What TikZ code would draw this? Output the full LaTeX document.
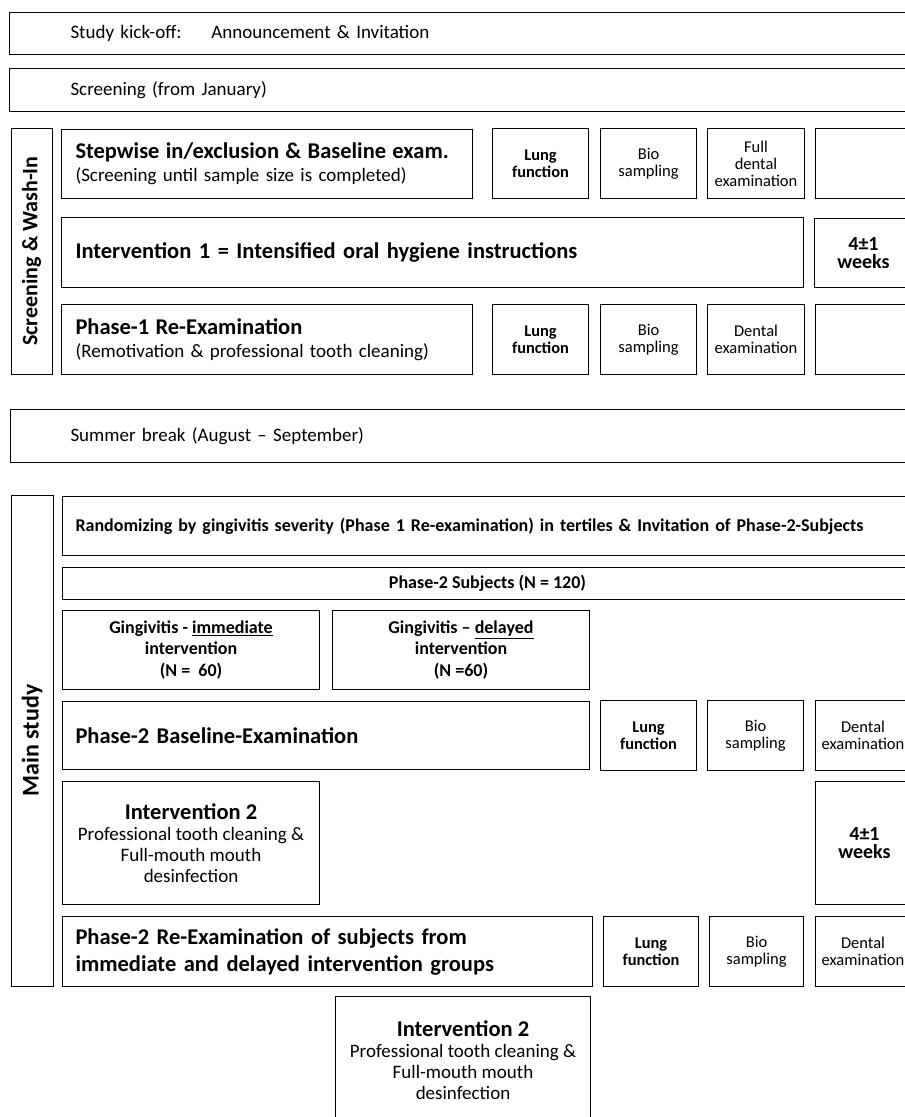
\documentclass[tikz,border=0pt]{standalone}
\usepackage{fontspec}
\setmainfont{Carlito}
\usepackage{tikz}

\tikzset{
  box/.style={draw, line width=1pt, anchor=north west, inner sep=0pt, align=center},
  lbox/.style={box, align=left, inner xsep=#1},
  txt/.style={font=\fontsize{19}{21}\selectfont},
  hd/.style={font=\bfseries\fontsize{22.5}{27}\selectfont},
  sm/.style={font=\fontsize{16.5}{17}\selectfont},
  smb/.style={font=\bfseries\fontsize{16.4}{17}\selectfont},
  midb/.style={font=\bfseries\fontsize{18}{21.5}\selectfont},
  wks/.style={font=\bfseries\fontsize{20}{18}\selectfont},
  side/.style={draw, line width=1pt, rotate=90, inner sep=0pt, font=\bfseries\fontsize{24}{26}\selectfont}
}

\begin{document}
\begin{tikzpicture}[x=1pt,y=-1pt]
\useasboundingbox (0,0) rectangle (905,1117);
\clip (0,0) rectangle (905,1117);

% Kick-off and screening
\node[lbox=61pt, txt, text width=789pt, minimum height=42pt] (kick) at (9,12) {Study kick-off:\hspace{30pt}Announcement \& Invitation};
\node[lbox=61pt, txt, text width=789pt, minimum height=43pt] (scr) at (9,68) {Screening (from January)};

% Screening & Wash-In block
\node[side, font=\bfseries\fontsize{22}{24}\selectfont, minimum width=246pt, minimum height=41pt] (wash) at (31.5,251) {Screening \& Wash-In};
\node[lbox=14pt, txt, text width=383pt, minimum height=69pt] (step) at (61,129) {{\bfseries\fontsize{22.5}{27}\selectfont Stepwise in/exclusion \& Baseline exam.}\\[2pt](Screening until sample size is completed)};
\node[box, smb, minimum width=96pt, minimum height=70pt] (lunga) at (492,128) {Lung\\function};
\node[box, sm, minimum width=96pt, minimum height=70pt] (bioa) at (600,128) {Bio\\sampling};
\node[box, sm, minimum width=97pt, minimum height=70pt] (denta) at (707,128) {Full\\dental\\examination};
\node[box, minimum width=98pt, minimum height=70pt] (empa) at (815,128) {};

\node[lbox=14pt, hd, text width=714pt, minimum height=70pt] (inta) at (61,217) {Intervention 1 = Intensified oral hygiene instructions};
\node[box, wks, minimum width=98pt, minimum height=69pt] (wka) at (814,218) {4±1\\weeks};

\node[lbox=14pt, txt, text width=383pt, minimum height=70pt] (rea) at (61,304) {{\bfseries\fontsize{22.5}{27}\selectfont Phase-1 Re-Examination}\\[2pt](Remotivation \& professional tooth cleaning)};
\node[box, smb, minimum width=96pt, minimum height=70pt] (lungb) at (492,304) {Lung\\function};
\node[box, sm, minimum width=96pt, minimum height=70pt] (biob) at (600,304) {Bio\\sampling};
\node[box, sm, minimum width=97pt, minimum height=70pt] (dentb) at (707,304) {Dental\\examination};
\node[box, minimum width=98pt, minimum height=70pt] (empb) at (815,304) {};

% Summer break
\node[lbox=60pt, txt, text width=790pt, minimum height=53pt] (summer) at (10,409) {Summer break (August -- September)};

% Main study block
\node[side, minimum width=491pt, minimum height=42pt] (main) at (32,740.5) {Main study};
\node[lbox=13pt, midb, text width=824pt, minimum height=59pt] (rand) at (62,496) {Randomizing by gingivitis severity (Phase 1 Re-examination) in tertiles \& Invitation of Phase-2-Subjects};
\node[box, midb, minimum width=850pt, minimum height=32pt] (subj) at (62,567) {Phase-2 Subjects (N = 120)};
\node[box, midb, minimum width=257pt, minimum height=79pt] (gimm) at (62,610) {Gingivitis - \underline{immediate}\\intervention\\(N =\ \ 60)};
\node[box, midb, minimum width=257pt, minimum height=79pt] (gdel) at (332,610) {Gingivitis -- \underline{delayed}\\intervention\\(N =60)};

\node[lbox=13pt, hd, text width=501pt, minimum height=68pt] (base) at (62,701) {Phase-2 Baseline-Examination};
\node[box, smb, minimum width=96pt, minimum height=70pt] (lungc) at (600,700) {Lung\\function};
\node[box, sm, minimum width=96pt, minimum height=70pt] (bioc) at (707,700) {Bio\\sampling};
\node[box, sm, minimum width=95pt, minimum height=70pt] (dentc) at (815,700) {Dental\\examination};

\node[box, txt, minimum width=257pt, minimum height=123pt] (intb) at (62,781) {{\bfseries\fontsize{22.5}{25}\selectfont Intervention 2}\\Professional tooth cleaning \&\\Full-mouth mouth\\desinfection};
\node[box, wks, minimum width=98pt, minimum height=123pt] (wkb) at (815,781) {4±1\\weeks};

\node[lbox=13pt, hd, text width=504pt, minimum height=70pt] (reb) at (62,916) {Phase-2 Re-Examination of subjects from\\immediate and delayed intervention groups};
\node[box, smb, minimum width=95pt, minimum height=70pt] (lungd) at (603,916) {Lung\\function};
\node[box, sm, minimum width=94pt, minimum height=70pt] (biod) at (709,916) {Bio\\sampling};
\node[box, sm, minimum width=95pt, minimum height=70pt] (dentd) at (815,916) {Dental\\examination};

% Delayed group intervention
\node[box, txt, minimum width=255pt, minimum height=128pt] (intc) at (335,996) {{\bfseries\fontsize{22.5}{25}\selectfont Intervention 2}\\Professional tooth cleaning \&\\Full-mouth mouth\\desinfection};
\end{tikzpicture}
\end{document}
